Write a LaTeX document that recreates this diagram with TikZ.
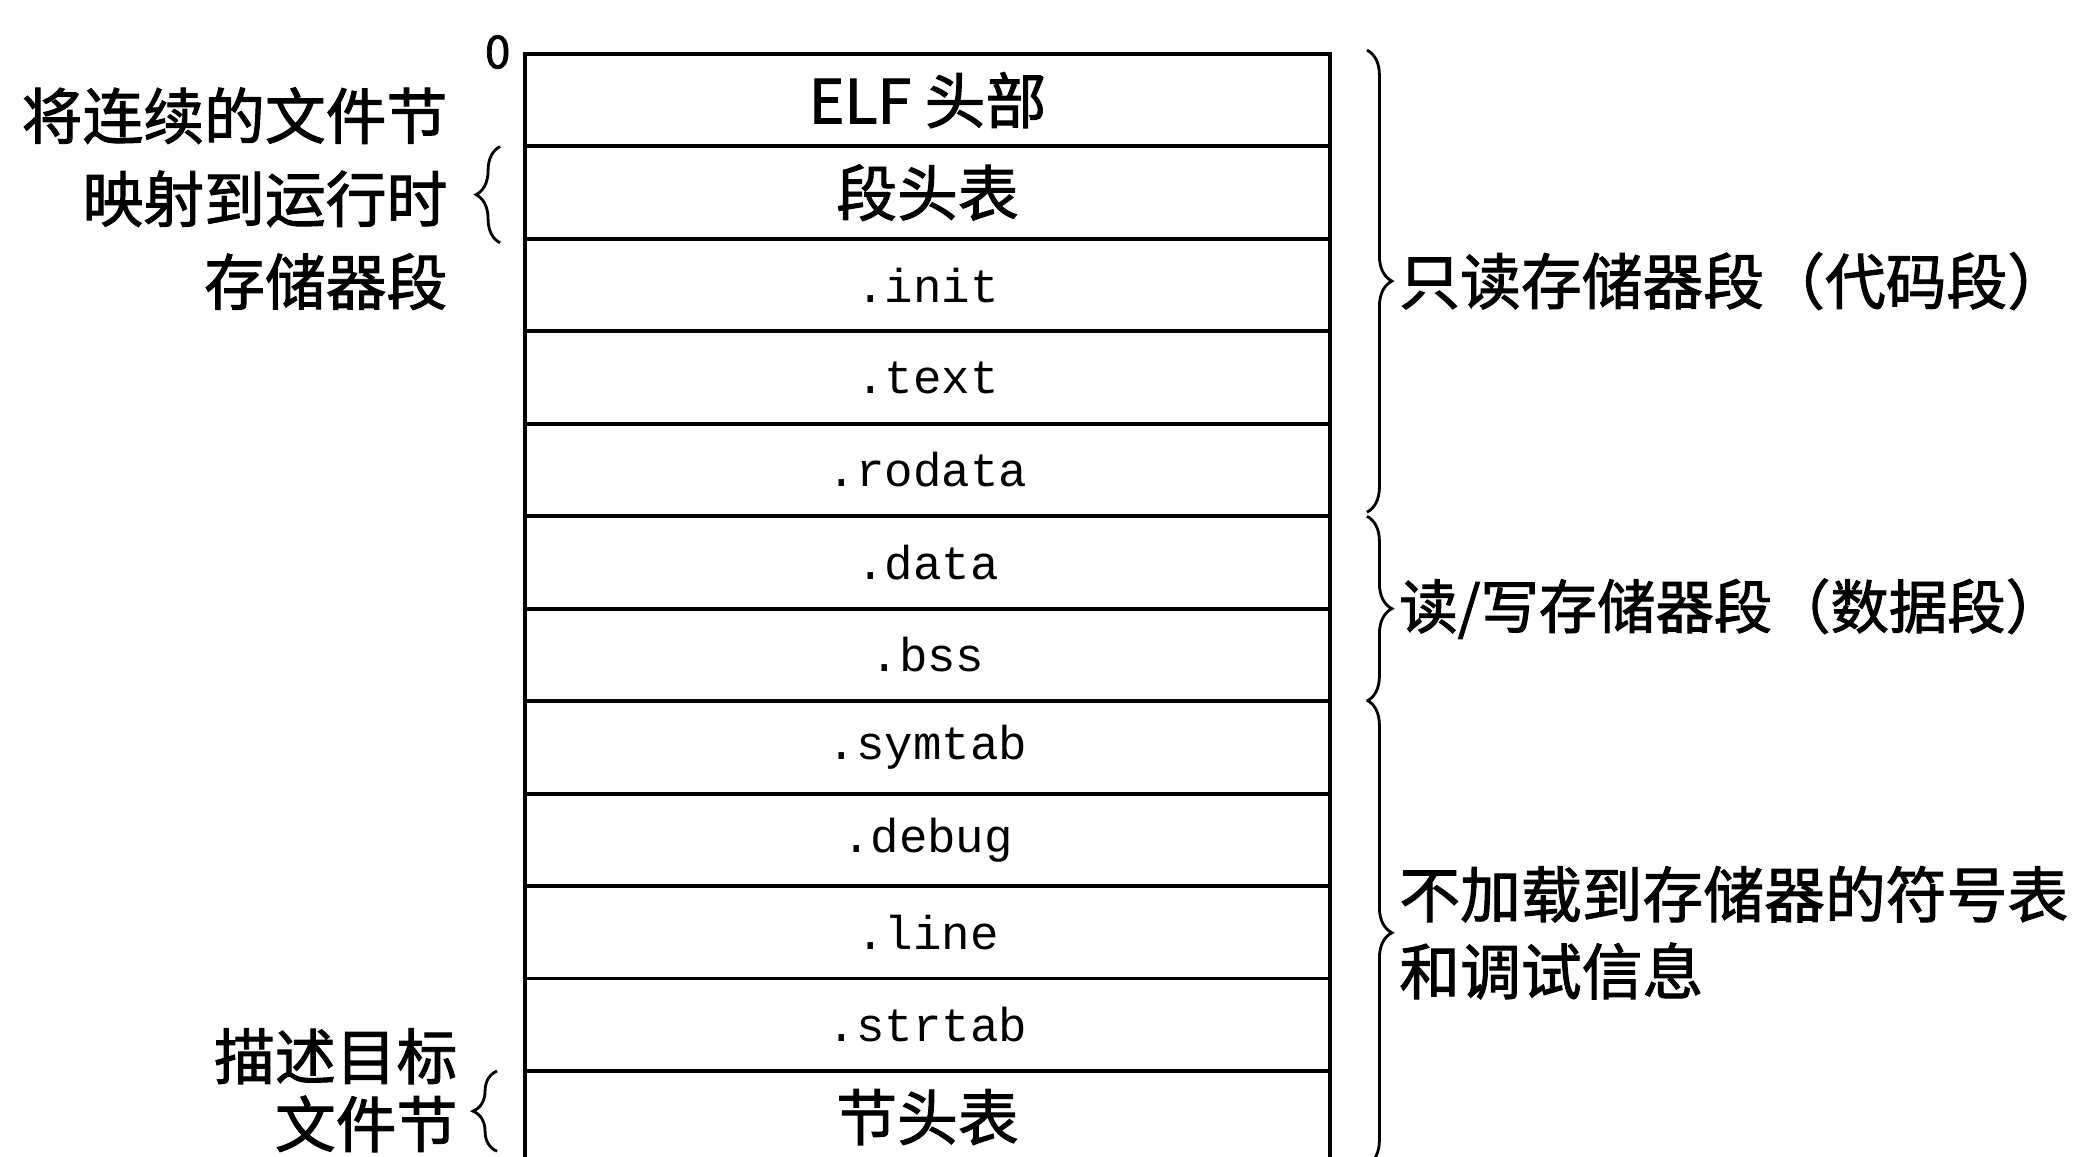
\documentclass[tikz,border=0pt]{standalone}
\usepackage{fontspec}
\usepackage{xcolor}
\usepackage{tikz}
\usetikzlibrary{decorations.pathreplacing}
\setmainfont{Noto Sans CJK SC}[FakeBold=1.6]
\setmonofont{Liberation Mono}

\begin{document}
\begin{tikzpicture}[node distance=0.9245cm,
    sec/.style={draw, line width=1.1pt, minimum width=8.05cm, minimum height=0.9245cm, inner sep=0pt, font=\fontsize{17.3}{20}\selectfont},
    secname/.style={sec, font=\ttfamily\fontsize{13.5}{16}\selectfont},
    lbrace/.style={decorate, decoration={brace, amplitude=0.24cm}, line width=0.8pt},
    rbrace/.style={decorate, decoration={brace, amplitude=0.25cm}, line width=0.8pt},
    note/.style={inner sep=0pt, font=\fontsize{17.3}{23.6}\selectfont}]
    \path[use as bounding box, clip] (0,0) rectangle (20.74,-11.57);
    \node (elf) [sec] at (9.275,-1.002) {ELF 头部};
    \node (phdr) [sec, below of=elf] {段头表};
    \node (init) [secname, below of=phdr] {.init};
    \node (text) [secname, below of=init] {.text};
    \node (rodata) [secname, below of=text] {.rodata};
    \node (data) [secname, below of=rodata] {.data};
    \node (bss) [secname, below of=data] {.bss};
    \node (symtab) [secname, below of=bss] {.symtab};
    \node (debug) [secname, below of=symtab] {.debug};
    \node (line) [secname, below of=debug] {.line};
    \node (strtab) [secname, below of=line] {.strtab};
    \node (shdr) [sec, below of=strtab] {节头表};
    \node (zero) [anchor=east, inner sep=0pt, font=\fontsize{13}{15}\selectfont] at ([xshift=-0.12cm]elf.north west) {0};
    \draw[lbrace] ([xshift=-0.23cm, yshift=-0.02cm]phdr.south west) -- ([xshift=-0.23cm, yshift=-0.02cm]phdr.north west);
    \node (maplbl) [note, anchor=east, align=right] at ([xshift=-0.75cm, yshift=-0.06cm]phdr.west) {将连续的文件节\\映射到运行时\\存储器段};
    \draw[lbrace] ([xshift=-0.26cm, yshift=0.14cm]shdr.south west) -- ([xshift=-0.26cm, yshift=-0.02cm]shdr.north west);
    \node (desclbl) [note, anchor=east, align=right, font=\fontsize{17.3}{19.3}\selectfont] at ([xshift=-0.65cm, yshift=0.27cm]shdr.west) {描述目标\\文件节};
    \draw[rbrace] ([xshift=0.35cm, yshift=0.02cm]elf.north east) -- ([xshift=0.35cm, yshift=0.06cm]rodata.south east)
        node (rolbl) [note, midway, anchor=west, xshift=0.31cm] {只读存储器段（代码段）};
    \draw[rbrace] ([xshift=0.35cm, yshift=-0.02cm]data.north east) -- ([xshift=0.35cm, yshift=0.02cm]bss.south east)
        node (rwlbl) [note, midway, anchor=west, xshift=0.31cm, font=\fontsize{16.6}{20}\selectfont] {读/写存储器段（数据段）};
    \draw[rbrace] ([xshift=0.35cm, yshift=-0.01cm]symtab.north east) -- ([xshift=0.35cm]shdr.south east)
        node (symlbl) [note, midway, anchor=west, align=left, xshift=0.31cm, font=\fontsize{17.3}{21.9}\selectfont] {不加载到存储器的符号表\\和调试信息};
\end{tikzpicture}
\end{document}
